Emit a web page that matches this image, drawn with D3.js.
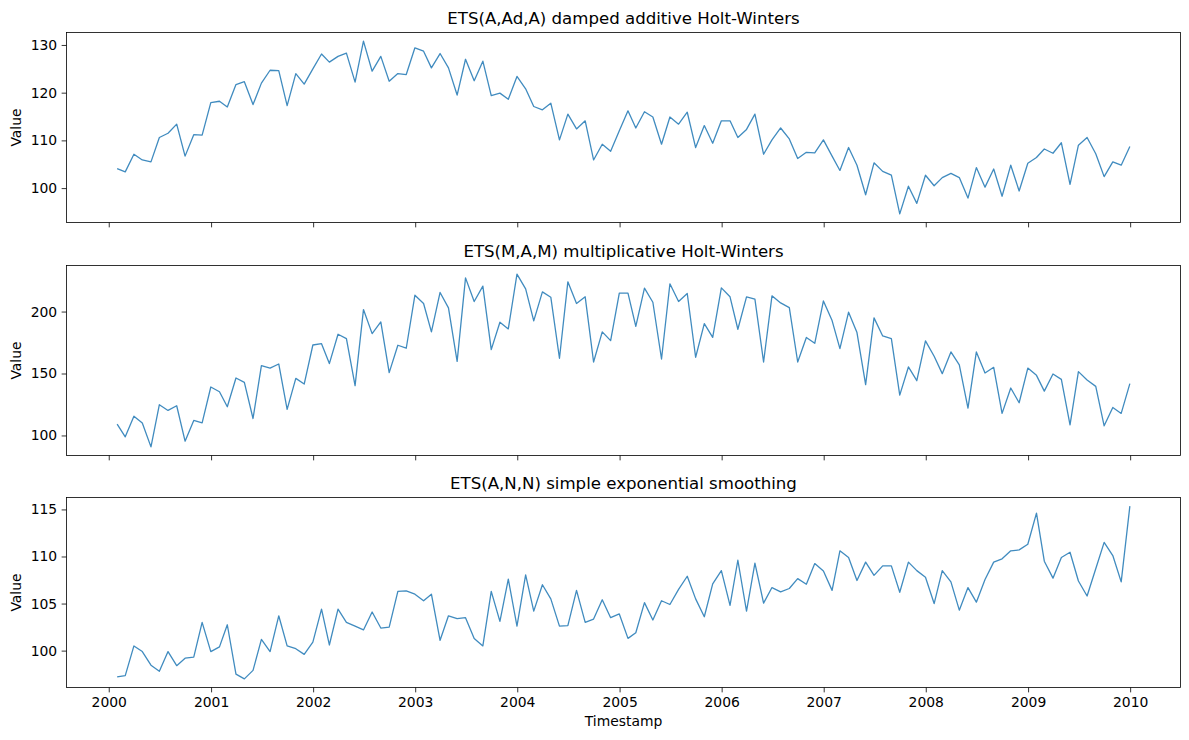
<!DOCTYPE html>
<html>
<head>
<meta charset="utf-8">
<script src="https://cdn.jsdelivr.net/npm/d3@7"></script>
<style>
  body { margin: 0; background: #fff; }
  svg { display: block; font-family: "DejaVu Sans", sans-serif; }
  .axis path, .axis line { stroke: #000; stroke-width: 0.8; }
  .axis text { fill: #000; font-size: 13.9px; font-family: "DejaVu Sans", sans-serif; }
</style>
</head>
<body>
<div id="chart"></div>
<script>
// Monthly series, Jan 2000 .. Dec 2009 (month-end stamps)
var startMonth = "2000-01-31";
var monthCount = 120;

var dampedValues = [
  104.1, 103.4, 107.1, 105.9, 105.5, 110.6, 111.5, 113.4, 106.7, 111.2, 111.1, 117.9,
  118.2, 117.0, 121.7, 122.3, 117.5, 122.0, 124.7, 124.6, 117.3, 124.0, 121.8, 125.0,
  128.1, 126.4, 127.6, 128.3, 122.2, 130.8, 124.5, 127.6, 122.4, 124.0, 123.8, 129.4,
  128.7, 125.2, 128.2, 125.2, 119.5, 127.0, 122.5, 126.6, 119.4, 119.9, 118.6, 123.4,
  120.8, 117.1, 116.4, 117.8, 110.1, 115.5, 112.4, 114.1, 105.9, 109.2, 107.7, 112.0,
  116.2, 112.6, 116.0, 114.9, 109.2, 114.9, 113.4, 115.9, 108.5, 113.1, 109.4, 114.1,
  114.1, 110.6, 112.3, 115.5, 107.1, 110.1, 112.6, 110.3, 106.2, 107.5, 107.4, 110.1,
  106.7, 103.7, 108.5, 104.8, 98.6, 105.3, 103.5, 102.7, 94.6, 100.4, 96.8, 102.7,
  100.5, 102.2, 103.1, 102.2, 97.9, 104.3, 100.2, 104.0, 98.3, 104.8, 99.4, 105.2,
  106.4, 108.2, 107.3, 109.5, 100.8, 109.0, 110.6, 107.2, 102.4, 105.5, 104.8, 108.7
];

var multValues = [
  109.2, 98.9, 115.6, 110.0, 90.8, 124.8, 120.2, 124.0, 95.4, 112.1, 110.2, 139.1,
  135.3, 123.2, 146.4, 142.9, 113.7, 156.3, 154.4, 157.7, 121.0, 146.1, 141.5, 173.0,
  174.1, 158.0, 181.7, 178.2, 140.2, 201.6, 182.2, 191.6, 150.7, 172.8, 170.4, 213.2,
  206.5, 183.6, 215.4, 203.0, 159.8, 227.2, 208.1, 220.5, 169.3, 191.4, 186.0, 230.2,
  218.3, 192.5, 215.9, 211.6, 162.3, 224.0, 206.5, 211.9, 159.3, 183.6, 176.5, 214.8,
  214.8, 188.1, 218.9, 207.5, 161.7, 222.4, 208.1, 214.6, 163.1, 190.3, 179.2, 219.1,
  211.9, 185.7, 211.9, 210.0, 159.3, 212.7, 207.0, 203.2, 159.3, 179.1, 174.4, 208.6,
  192.7, 170.1, 199.5, 183.0, 141.0, 194.9, 180.3, 178.2, 132.6, 155.3, 144.2, 176.3,
  163.9, 149.9, 167.4, 156.9, 122.1, 167.4, 150.4, 155.0, 117.8, 138.3, 126.4, 154.4,
  148.5, 135.8, 149.6, 145.3, 108.6, 151.5, 144.7, 139.6, 107.8, 122.6, 117.8, 141.8
];

var sesValues = [
  97.2, 97.35, 100.5, 99.9, 98.45, 97.8, 99.9, 98.4, 99.2, 99.3, 103.0, 99.9,
  100.4, 102.75, 97.5, 97.0, 97.9, 101.2, 99.9, 103.7, 100.5, 100.2, 99.6, 100.9,
  104.4, 100.6, 104.4, 103.0, 102.6, 102.2, 104.1, 102.4, 102.5, 106.3, 106.35, 106.0,
  105.3, 106.0, 101.1, 103.7, 103.4, 103.5, 101.3, 100.5, 106.3, 103.1, 107.6, 102.6,
  108.05, 104.2, 107.0, 105.5, 102.6, 102.65, 106.4, 103.0, 103.35, 105.4, 103.5, 103.9,
  101.3, 101.9, 105.1, 103.25, 105.3, 104.9, 106.5, 107.9, 105.5, 103.6, 107.1, 108.5,
  104.8, 109.6, 104.2, 109.3, 105.05, 106.7, 106.25, 106.6, 107.65, 107.05, 109.25, 108.45,
  106.4, 110.6, 109.9, 107.45, 109.4, 108.0, 109.0, 109.0, 106.2, 109.4, 108.5, 107.8,
  105.0, 108.5, 107.3, 104.3, 106.7, 105.15, 107.55, 109.4, 109.75, 110.6, 110.7, 111.3,
  114.6, 109.5, 107.7, 109.9, 110.45, 107.4, 105.8, 108.7, 111.5, 110.1, 107.3, 115.35
];

var panelTitles = [
  "ETS(A,Ad,A) damped additive Holt-Winters",
  "ETS(M,A,M) multiplicative Holt-Winters",
  "ETS(A,N,N) simple exponential smoothing"
];
var yTickValues = [
  [100, 110, 120, 130],
  [100, 150, 200],
  [100, 105, 110, 115]
];
var xTickYears = [2000, 2001, 2002, 2003, 2004, 2005, 2006, 2007, 2008, 2009, 2010];

// Layout (matches the reference figure)
var width = 1189;
var height = 740;
var plotLeft = 66.5;
var plotRight = 1180.5;
var panelTops = [32.5, 265.5, 497.5];
var panelHeight = 190;
var tickLen = 4.86;
var lineColor = "#1f77b4";

// month-end dates for each observation
var parseDate = d3.utcParse("%Y-%m-%d");
var dates = d3.range(monthCount).map(function(i) {
  var first = parseDate(startMonth);
  var d = d3.utcMonth.offset(d3.utcMonth.floor(first), i + 1);
  return d3.utcDay.offset(d, -1);
});

var svg = d3.select("#chart")
  .append("svg")
  .attr("width", width)
  .attr("height", height);

// shared x scale with matplotlib-style 5% margins
var span = dates[dates.length - 1] - dates[0];
var xScale = d3.scaleUtc()
  .domain([new Date(+dates[0] - span * 0.05), new Date(+dates[dates.length - 1] + span * 0.05)])
  .range([plotLeft, plotRight]);

var xTicks = xTickYears.map(function(y) { return new Date(Date.UTC(y, 0, 1)); });

var series = [dampedValues, multValues, sesValues];

series.forEach(function(values, k) {
  var top = panelTops[k];
  var bottom = top + panelHeight;

  var lo = d3.min(values), hi = d3.max(values);
  var pad = (hi - lo) * 0.05;
  var yScale = d3.scaleLinear()
    .domain([lo - pad, hi + pad])
    .range([bottom, top]);

  var g = svg.append("g").attr("class", "panel panel-" + k);

  // data line
  var line = d3.line()
    .x(function(d, i) { return xScale(dates[i]); })
    .y(function(d) { return yScale(d); });

  g.append("path")
    .datum(values)
    .attr("fill", "none")
    .attr("stroke", lineColor)
    .attr("stroke-width", 1.3)
    .attr("stroke-opacity", 0.85)
    .attr("stroke-linejoin", "round")
    .attr("d", line);

  // y axis
  var yAxis = d3.axisLeft(yScale)
    .tickValues(yTickValues[k])
    .tickSize(tickLen)
    .tickPadding(4.5)
    .tickFormat(d3.format("d"));

  var yG = g.append("g")
    .attr("class", "axis y")
    .attr("transform", "translate(" + plotLeft + ",0)")
    .call(yAxis);
  yG.select(".domain").remove();

  // x axis (labels only on the bottom panel)
  var xAxis = d3.axisBottom(xScale)
    .tickValues(xTicks)
    .tickSize(tickLen)
    .tickPadding(4.8)
    .tickFormat(k === 2 ? d3.utcFormat("%Y") : "");

  var xG = g.append("g")
    .attr("class", "axis x")
    .attr("transform", "translate(0," + bottom + ")")
    .call(xAxis);
  xG.select(".domain").remove();

  // frame
  g.append("rect")
    .attr("x", plotLeft)
    .attr("y", top)
    .attr("width", plotRight - plotLeft)
    .attr("height", panelHeight)
    .attr("fill", "none")
    .attr("stroke", "#000")
    .attr("stroke-width", 0.8);

  // title
  g.append("text")
    .attr("x", (plotLeft + plotRight) / 2)
    .attr("y", top - 8.3)
    .attr("text-anchor", "middle")
    .attr("font-size", "16.6px")
    .attr("fill", "#000")
    .text(panelTitles[k]);

  // y label
  g.append("text")
    .attr("transform", "translate(21," + (top + panelHeight / 2) + ") rotate(-90)")
    .attr("text-anchor", "middle")
    .attr("font-size", "13.9px")
    .attr("fill", "#000")
    .text("Value");
});

// x label
svg.append("text")
  .attr("x", (plotLeft + plotRight) / 2)
  .attr("y", 726)
  .attr("text-anchor", "middle")
  .attr("font-size", "13.9px")
  .attr("fill", "#000")
  .text("Timestamp");
</script>
</body>
</html>
